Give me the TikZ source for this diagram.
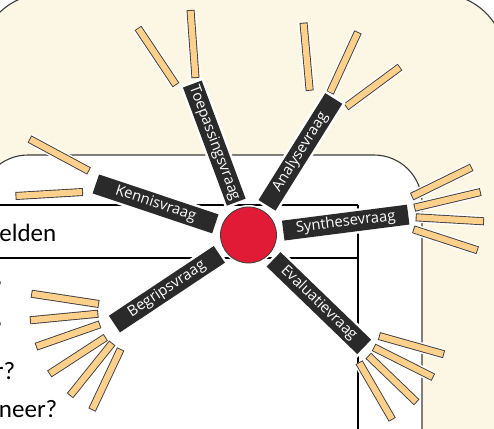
\documentclass[tikz,border=0pt]{standalone}
\usepackage{fontspec}
\newfontfamily\labfont{Open Sans}
\newfontfamily\bodyfont{Carlito}
\definecolor{cream}{HTML}{FCF6E4}
\definecolor{edge}{HTML}{3C3C3C}
\definecolor{stickc}{HTML}{FDD08C}
\definecolor{lab}{HTML}{2A2A2A}
\definecolor{dot}{HTML}{E11B35}
\tikzset{
  halo/.style={draw=white, line width=11pt},
  stickedge/.style={draw=edge, line width=8pt},
  stickfill/.style={draw=stickc, line width=6.2pt, shorten <=0.9pt, shorten >=0.9pt},
  lbl/.style={fill=lab, text=white, font=\labfont\fontsize{14.8}{15}\selectfont,
    minimum width=126pt, minimum height=20pt, inner sep=0pt,
    preaction={draw=white, line width=5pt}},
  bodytxt/.style={font=\bodyfont\fontsize{25}{25}\selectfont, inner sep=0pt, text=black},
  panel/.style={draw=edge, line width=1.1pt},
  tabline/.style={draw=black, line width=1.8pt}
}
\begin{document}
\begin{tikzpicture}[x=1pt, y=-1pt]
\useasboundingbox (0,0) rectangle (494,428);
\clip (0,0) rectangle (494,428);
\fill[white] (0,0) rectangle (494,428);
% cream background panel
\path[panel, fill=cream, rounded corners=65pt] (-20,-6) rectangle (505,500);
% white inner panel
\path[panel, fill=white, rounded corners=48pt] (-20,155) rectangle (422,500);
% table lines
\draw[tabline] (-5,205) -- (358,205);
\draw[tabline] (-5,258) -- (358,258);
\draw[tabline] (358,205) -- (358,440);
% clipped texts
\node[bodytxt, anchor=base east] (t1) at (56.5,241) {elden};
\node[bodytxt, anchor=base east] (t2) at (2.5,296) {?};
\node[bodytxt, anchor=base east] (t3) at (2.5,337) {?};
\node[bodytxt, anchor=base east] (t4) at (15.5,379) {r?};
\node[bodytxt, anchor=base east] (t5) at (57.5,417) {neer?};
% sticks
\def\sticklist{29.5/139/89/171, 15.5/196/83/192,
  138/28/176/85, 190.5/10/195.5/78,
  303.5/22.7/309.7/90.7, 358/32/330/93, 400/67/346/107,
  411.7/196.7/471.7/167.3, 414.3/207.7/480.7/192, 415.7/217.3/484/221.3, 413.3/229.3/477.7/250.3,
  379/336/444/354.3, 373.7/347.3/433.3/377.3, 368.3/355.7/416.7/402.3, 359/362.3/392.3/419.7,
  31.3/293.7/99/304, 30/320.3/98.3/313.7, 36/346.7/100/324.3, 49.3/374/105.7/337.3,
  70/395.7/112.3/343, 92/410/120.7/349}
\foreach \xa/\ya/\xb/\yb in \sticklist {\draw[halo] (\xa,\ya) -- (\xb,\yb);}
\foreach \xa/\ya/\xb/\yb in \sticklist {
  \draw[stickedge] (\xa,\ya) -- (\xb,\yb);
  \draw[stickfill] (\xa,\ya) -- (\xb,\yb);
}
% labels
\node[lbl, rotate=-18.5] (k) at (155.6,203.9) {Kennisvraag};
\node[lbl, rotate=-69.6] (t) at (214.3,143.1) {Toepassingsvraag};
\node[lbl, rotate=58] (a) at (300.4,151.9) {Analysevraag};
\node[lbl, rotate=7.3] (s) at (345.7,222.6) {Synthesevraag};
\node[lbl, rotate=33.6] (b) at (166.9,289.2) {Begripsvraag};
\node[lbl, rotate=-44] (e) at (318.9,303.1) {Evaluatievraag};
% centre dot
\node[circle, fill=dot, draw=edge, line width=0.8pt, minimum size=56pt, inner sep=0pt,
  preaction={draw=white, line width=4pt}] (c) at (248.5,235) {};
\end{tikzpicture}
\end{document}
